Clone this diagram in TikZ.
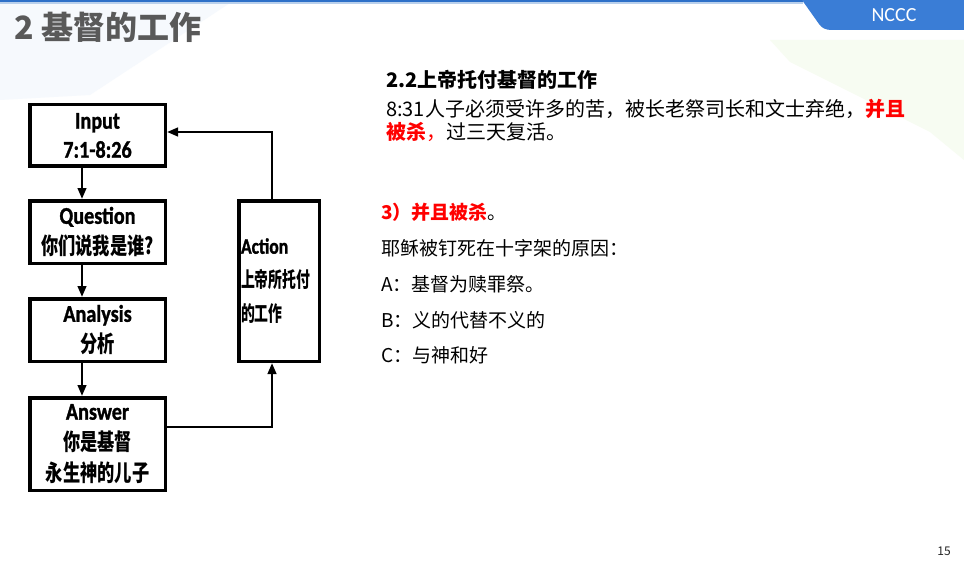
\documentclass[tikz,border=0pt]{standalone}
\usepackage{fontspec}
\setmainfont{Noto Sans CJK SC}
\newfontfamily\latA{Carlito}[FakeStretch=0.84,FakeBold=1.2]
\newfontfamily\cjkA{Noto Sans CJK SC}[FakeStretch=0.75]
\newfontfamily\latB{Carlito}[FakeStretch=0.80,FakeBold=1.2]
\newfontfamily\cjkB{Noto Sans CJK SC}[FakeStretch=0.66]
\newfontfamily\tabfont{Carlito}
\usetikzlibrary{arrows.meta}
\definecolor{hdrblue}{RGB}{58,125,214}
\definecolor{topblue}{RGB}{45,112,200}
\definecolor{toplight}{RGB}{185,208,236}
\definecolor{titlegray}{RGB}{89,89,89}
\definecolor{bgblue}{RGB}{246,249,253}
\definecolor{bggreen}{RGB}{247,252,242}
\definecolor{redtxt}{RGB}{255,0,0}
\begin{document}
\begin{tikzpicture}[x=1pt,y=-1pt,
  box/.style={draw=black, line width=3.5pt, fill=white, inner sep=0pt, align=center,
    minimum width=135.5pt, font=\fontsize{24}{31}\selectfont\bfseries},
  arr/.style={line width=2.5pt, -{Triangle[length=11pt,width=8.5pt]}},
  txt/.style={anchor=base west, inner sep=0pt, text=black},
]
\useasboundingbox (0,0) rectangle (964,567);
\fill[white] (0,0) rectangle (964,567);
% faint background tints
\fill[bgblue] (0,3) -- (230,3) -- (90,95) -- (0,100) -- cycle;
\fill[bggreen] (770,40) -- (964,40) -- (964,160) -- (930,132) -- (790,62) -- cycle;
% header
\fill[topblue] (0,0) rectangle (803,2.5);
\fill[toplight] (0,2.5) rectangle (803,4);
\fill[hdrblue] (802,0) -- (964,0) -- (964,30) -- (832,30) .. controls (825,30) and (822,28) .. (819,24) -- cycle;
\node[font=\tabfont\fontsize{20}{20}\selectfont, text=white, inner sep=0pt] (nccc) at (894,15) {NCCC};
% title
\node[anchor=base west, inner sep=0pt, text=titlegray, font=\fontsize{32}{36}\selectfont\bfseries] (gtitle) at (14,39.2) {2 基督的工作};

% flowchart
\node[box, minimum height=61.5pt, font=\fontsize{24}{29}\selectfont\bfseries] (in) at (97.5,135.5)
  {{\latA Input}\\{\latA 7:1-8:26}};
\node[box, minimum height=62.5pt] (q) at (97.5,232)
  {{\latA Question}\\{\cjkA\fontsize{23}{31}\selectfont 你们说我是谁?}};
\node[box, minimum height=62.5pt] (an) at (97.5,330)
  {{\latA Analysis}\\{\cjkA\fontsize{23}{31}\selectfont 分析}};
\node[box, minimum height=92.5pt] (ans) at (97.5,444)
  {{\latA Answer}\\{\cjkA\fontsize{23}{31}\selectfont 你是基督}\\{\cjkA\fontsize{23}{31}\selectfont 永生神的儿子}};
\node[box, minimum width=80.5pt, minimum height=160.5pt, text width=76pt, align=left,
  font=\fontsize{22}{34}\selectfont\bfseries] (act) at (279,281)
  {{\latB Action}\\{\cjkB\fontsize{21}{34}\selectfont 上帝所托付}\\{\cjkB\fontsize{21}{34}\selectfont 的工作}};

\coordinate (ax) at (82,0);
\coordinate (bx) at (272,427);
\coordinate (cx) at (272,132);
\draw[arr] (in.south -| ax) -- (q.north -| ax);
\draw[arr] (q.south -| ax) -- (an.north -| ax);
\draw[arr] (an.south -| ax) -- (ans.north -| ax);
\draw[arr] (ans.east |- bx) -| (act.south -| bx);
\draw[arr] (act.north -| bx) |- (in.east |- cx);

% right text
\node[txt, font=\fontsize{20}{24}\selectfont\bfseries] (t22) at (386,87.6) {2.2上帝托付基督的工作};
\node[txt, font=\fontsize{20}{24}\selectfont] (l2) at (386,116.6)
  {8:31人子必须受许多的苦，被长老祭司长和文士弃绝，\textcolor{redtxt}{\bfseries 并且}};
\node[txt, font=\fontsize{20}{24}\selectfont] (l3) at (386,139.6)
  {\textcolor{redtxt}{{\bfseries 被杀}，}过三天复活。};

\node[txt, font=\fontsize{19}{23}\selectfont] (h3) at (381,219.2) {\textcolor{redtxt}{\bfseries 3）并且被杀}。};
\node[txt, font=\fontsize{19}{23}\selectfont] (why) at (381,255.2) {耶稣被钉死在十字架的原因：};
\node[txt, font=\fontsize{19}{23}\selectfont] (ia) at (381,291.2) {A：基督为赎罪祭。};
\node[txt, font=\fontsize{19}{23}\selectfont] (ib) at (381,327.2) {B：义的代替不义的};
\node[txt, font=\fontsize{19}{23}\selectfont] (ic) at (381,362.2) {C：与神和好};

\node[font=\fontsize{12}{12}\selectfont, text=black!85, inner sep=0pt] (pg) at (944,551) {15};
\end{tikzpicture}
\end{document}
